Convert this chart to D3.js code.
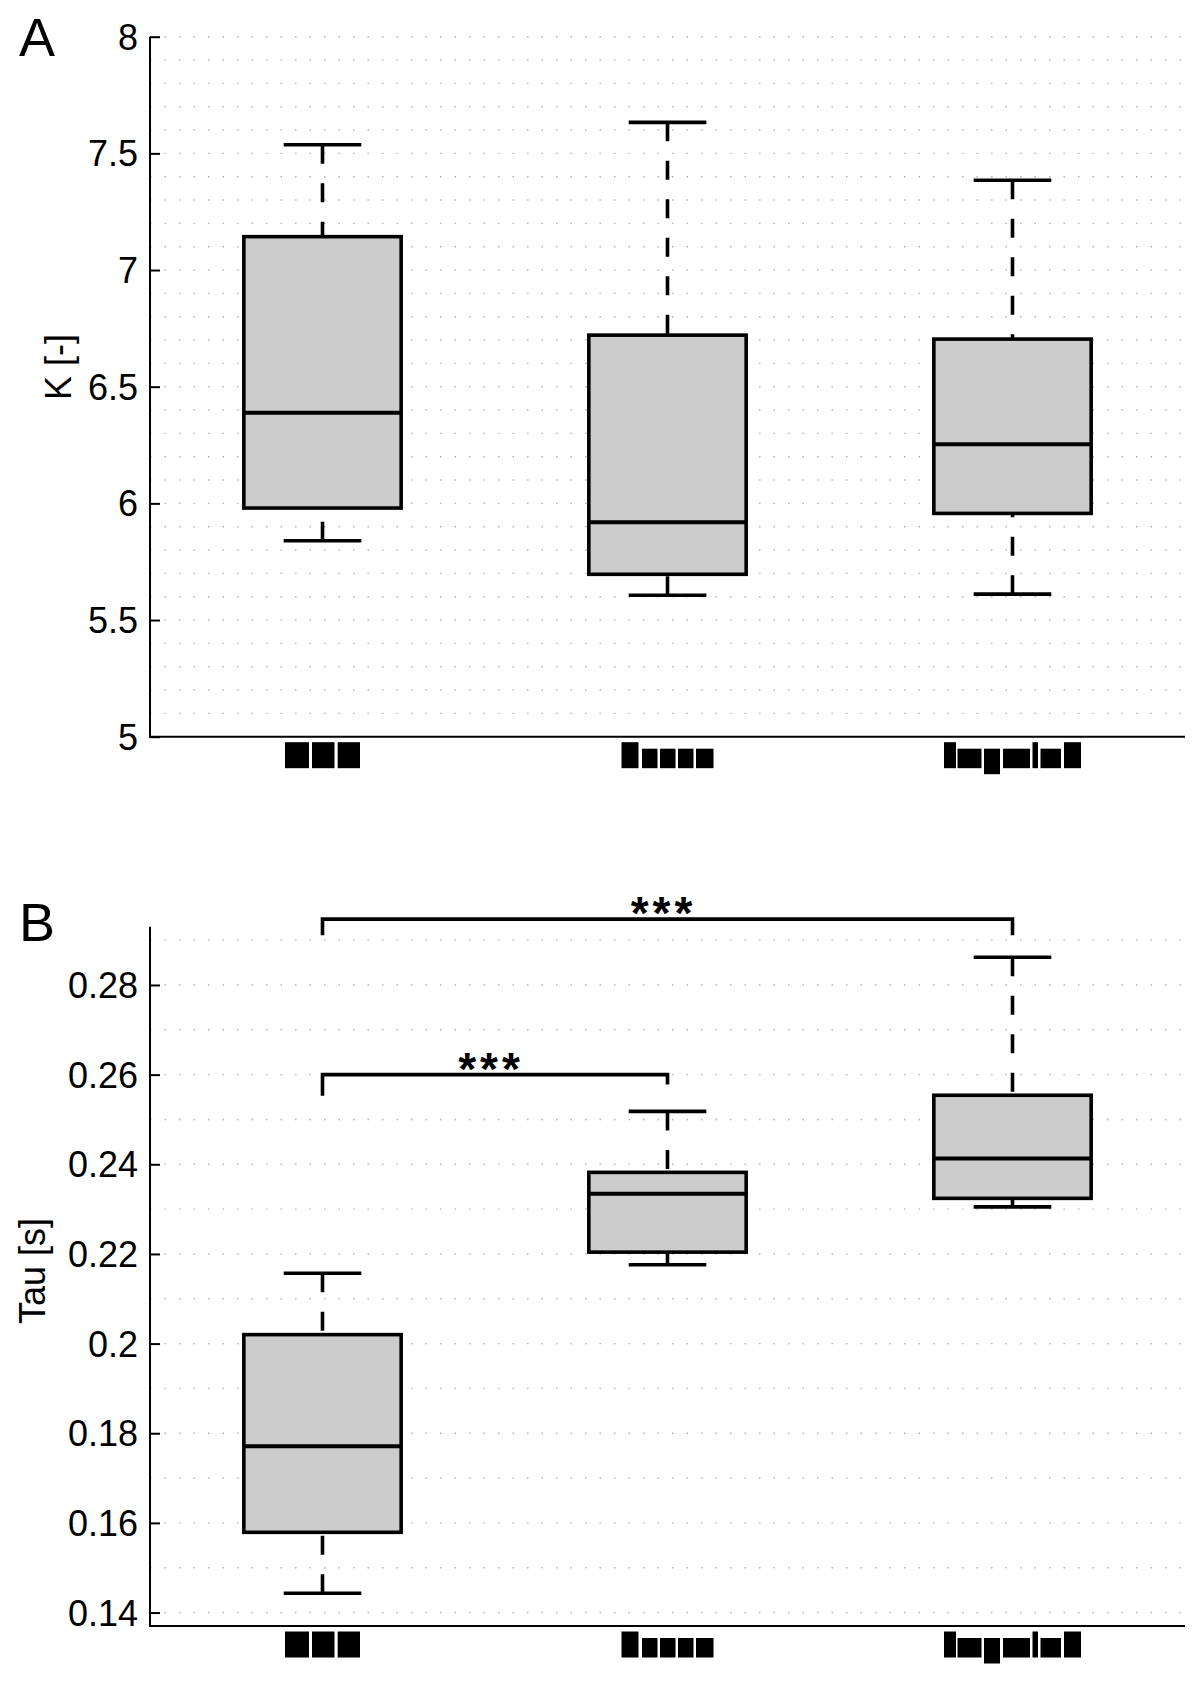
<!DOCTYPE html>
<html>
<head>
<meta charset="utf-8">
<script src="https://cdn.jsdelivr.net/npm/d3@7"></script>
<style>
  body { margin: 0; background: #fff; }
  svg text { font-family: "Liberation Sans", Arial, sans-serif; fill: #000; }
</style>
</head>
<body>
<svg id="chart" width="1200" height="1682"></svg>
<script>
// group positions on the x axis (labels are blacked out in the source)
var groups = [1, 2, 3];

// panel A: K [-]
var kUpper  = [7.537, 7.633, 7.385];
var kQ3     = [7.143, 6.721, 6.704];
var kMedian = [6.388, 5.919, 6.253];
var kQ1     = [5.980, 5.696, 5.957];
var kLower  = [5.840, 5.606, 5.611];
var kTicks  = [5, 5.5, 6, 6.5, 7, 7.5, 8];

// panel B: Tau [s]
var tauUpper  = [0.2157, 0.2518, 0.2862];
var tauQ3     = [0.2020, 0.2382, 0.2554];
var tauMedian = [0.1771, 0.2334, 0.2413];
var tauQ1     = [0.1579, 0.2204, 0.2324];
var tauLower  = [0.1443, 0.2176, 0.2305];
var tauTicks  = [0.14, 0.16, 0.18, 0.2, 0.22, 0.24, 0.26, 0.28];

// significance brackets (panel B)
var sigFrom  = [1, 1];
var sigTo    = [3, 2];
var sigLevel = [0.2947, 0.26];
var sigDropL = [0.2911, 0.2553];
var sigDropR = [0.2911, 0.2578];
var sigText  = ["***", "***"];

// shapes of the redacted tick labels: [offset, width, kind]
var redacted = [
  [[0, 24, "T"], [27, 22.5, "T"], [52.7, 22.3, "T"]],
  [[0, 17, "T"], [20.5, 15.5, "x"], [38.5, 15.5, "x"], [56.5, 15.5, "x"], [74.5, 17.5, "x"]],
  [[0, 12, "T"], [13.5, 24, "x"], [40, 16, "g"], [59, 27, "x"], [88.5, 5.5, "T"], [96.5, 20.5, "x"], [120, 17, "T"]]
];

var svg = d3.select("#chart");
var left = 150, right = 1185;
var xScale = d3.scaleLinear().domain([0.5, 3.5]).range([left, right]);
var boxHalf = 0.228, capHalf = 0.1125;
var lw = 3.6;

function drawPanel(p) {
  var g = svg.append("g");
  var y = d3.scaleLinear().domain(p.domain).range([p.bottom, p.top]);

  // dotted minor grid
  g.selectAll(".grid").data(p.grid).enter().append("line")
    .attr("x1", left).attr("x2", right)
    .attr("y1", d => y(d)).attr("y2", d => y(d))
    .attr("stroke", "#b4b4b4").attr("stroke-width", 1.4)
    .attr("stroke-dasharray", "1.5,13");

  // y axis
  var yAxis = g.append("g")
    .attr("transform", "translate(" + left + ",0)")
    .call(d3.axisRight(y).tickValues(p.ticks).tickSize(10).tickFormat(""));
  yAxis.select(".domain").remove();
  yAxis.selectAll("line").attr("stroke", "#000").attr("stroke-width", 2);
  g.append("line").attr("x1", left).attr("x2", left)
    .attr("y1", p.top).attr("y2", p.bottom + 1)
    .attr("stroke", "#000").attr("stroke-width", 2);
  g.append("line").attr("x1", left - 1).attr("x2", right)
    .attr("y1", p.bottom).attr("y2", p.bottom)
    .attr("stroke", "#000").attr("stroke-width", 2);

  g.selectAll(".tl").data(p.ticks).enter().append("text")
    .attr("x", 138).attr("y", d => y(d) + 13)
    .attr("text-anchor", "end").attr("font-size", 36)
    .text(d => d3.format("")(+d.toFixed(2)));

  // whiskers
  groups.forEach(function (gr, i) {
    var cx = xScale(gr);
    [[p.upper[i], p.q3[i]], [p.lower[i], p.q1[i]]].forEach(function (w) {
      g.append("line").attr("x1", cx).attr("x2", cx)
        .attr("y1", y(w[0])).attr("y2", y(w[1]))
        .attr("stroke", "#000").attr("stroke-width", lw)
        .attr("stroke-dasharray", "19,19.5");
      g.append("line").attr("x1", xScale(gr - capHalf)).attr("x2", xScale(gr + capHalf))
        .attr("y1", y(w[0])).attr("y2", y(w[0]))
        .attr("stroke", "#000").attr("stroke-width", lw);
    });
    g.append("rect")
      .attr("x", xScale(gr - boxHalf)).attr("width", xScale(gr + boxHalf) - xScale(gr - boxHalf))
      .attr("y", y(p.q3[i])).attr("height", y(p.q1[i]) - y(p.q3[i]))
      .attr("fill", "#cccccc").attr("stroke", "#000").attr("stroke-width", lw);
    g.append("line")
      .attr("x1", xScale(gr - boxHalf)).attr("x2", xScale(gr + boxHalf))
      .attr("y1", y(p.median[i])).attr("y2", y(p.median[i]))
      .attr("stroke", "#000").attr("stroke-width", lw + 0.4);

    // blacked-out category label
    var blocks = redacted[i];
    var last = blocks[blocks.length - 1];
    var x0 = cx - (last[0] + last[1]) / 2;
    var base = p.bottom + 31.5;
    g.selectAll(null).data(blocks).enter().append("rect")
      .attr("x", b => x0 + b[0]).attr("width", b => b[1])
      .attr("y", b => base - (b[2] == "T" ? 26 : 19.5))
      .attr("height", b => (b[2] == "T" ? 26 : 19.5) + (b[2] == "g" ? 6 : 0))
      .attr("fill", "#000");
  });

  // axis title and panel letter
  g.append("text")
    .attr("transform", "translate(" + p.titleX + "," + p.titleY + ") rotate(-90)")
    .attr("text-anchor", "middle").attr("font-size", 36)
    .text(p.title);
  g.append("text").attr("x", 19).attr("y", p.letterY)
    .attr("font-size", 54).text(p.letter);
  return y;
}

drawPanel({
  domain: [5, 8], top: 36.7, bottom: 736.7,
  ticks: kTicks, grid: d3.range(51, 81).map(d => d / 10),
  upper: kUpper, q3: kQ3, median: kMedian, q1: kQ1, lower: kLower,
  title: "K [-]", titleX: 71, titleY: 367, letter: "A", letterY: 56
});

var yB = drawPanel({
  domain: [0.137, 0.293], top: 926.7, bottom: 1626,
  ticks: tauTicks, grid: d3.range(14, 30).map(d => d / 100),
  upper: tauUpper, q3: tauQ3, median: tauMedian, q1: tauQ1, lower: tauLower,
  title: "Tau [s]", titleX: 45, titleY: 1271, letter: "B", letterY: 941
});

// significance brackets
sigFrom.forEach(function (f, i) {
  var x1 = xScale(f), x2 = xScale(sigTo[i]);
  svg.append("path")
    .attr("d", d3.line()([[x1, yB(sigDropL[i])], [x1, yB(sigLevel[i])], [x2, yB(sigLevel[i])], [x2, yB(sigDropR[i])]]))
    .attr("fill", "none").attr("stroke", "#000").attr("stroke-width", lw);
  svg.append("text")
    .attr("x", (x1 + x2) / 2 - 4).attr("y", yB(sigLevel[i]) + 10)
    .attr("text-anchor", "middle").attr("font-size", 46).attr("font-weight", "bold")
    .attr("letter-spacing", 4)
    .text(sigText[i]);
});
</script>
</body>
</html>
